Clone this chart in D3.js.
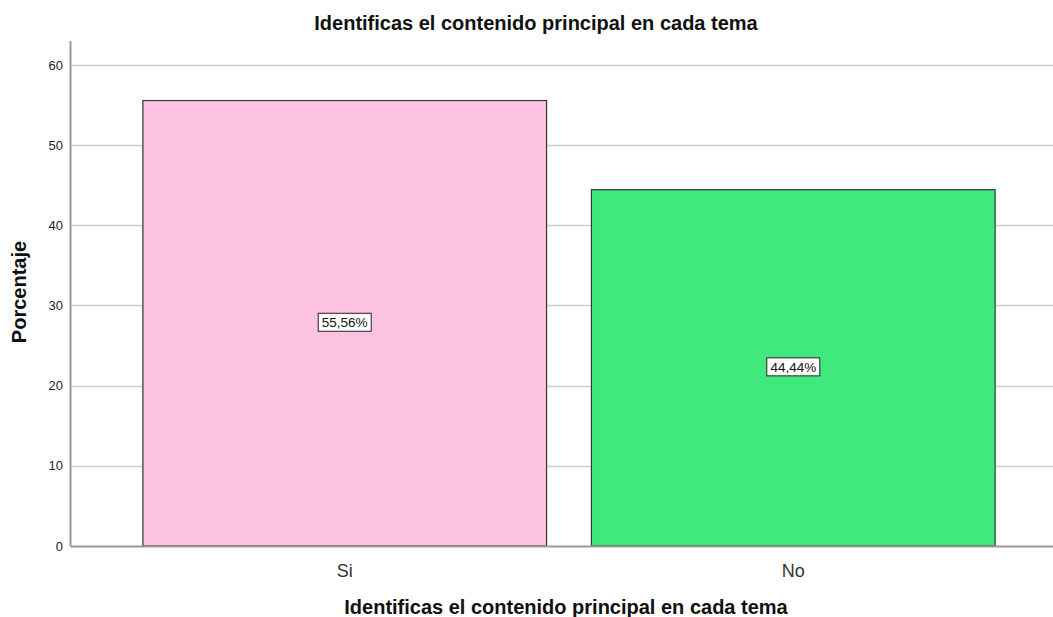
<!DOCTYPE html>
<html>
<head>
<meta charset="utf-8">
<script src="https://cdn.jsdelivr.net/npm/d3@7"></script>
<style>
  html, body { margin: 0; padding: 0; background: #fff; }
  svg { display: block; font-family: "Liberation Sans", Arial, sans-serif; }
</style>
</head>
<body>
<div id="chart"></div>
<script>
// data
const categories = ["Si", "No"];
const percentages = [55.56, 44.44];
const pctLabels = ["55,56%", "44,44%"];
const yTicks = [0, 10, 20, 30, 40, 50, 60];
const barColors = ["#fec2e2", "#41e87e"];

const width = 1053, height = 617;

const svg = d3.select("#chart")
  .append("svg")
  .attr("width", width)
  .attr("height", height);

const x = d3.scaleBand()
  .domain(categories)
  .range([98, 1040])
  .padding(0.1);

const y = d3.scaleLinear()
  .domain([0, 63])
  .range([546, 40.9]);

const axisLeft = 70.5, axisRight = 1053;

// gridlines
svg.append("g")
  .selectAll("line")
  .data(yTicks.filter(t => t > 0))
  .join("line")
  .attr("x1", axisLeft)
  .attr("x2", axisRight)
  .attr("y1", d => Math.round(y(d)) + 0.5)
  .attr("y2", d => Math.round(y(d)) + 0.5)
  .attr("stroke", "#cfcfcf")
  .attr("stroke-width", 1.5);

// y tick labels
svg.append("g")
  .selectAll("text")
  .data(yTicks)
  .join("text")
  .attr("x", 63)
  .attr("y", d => y(d))
  .attr("dy", "0.35em")
  .attr("text-anchor", "end")
  .attr("font-size", "13px")
  .attr("fill", "#222")
  .text(d => d);

// bars
svg.append("g")
  .selectAll("rect")
  .data(categories)
  .join("rect")
  .attr("x", d => x(d))
  .attr("y", (d, i) => y(percentages[i]))
  .attr("width", x.bandwidth())
  .attr("height", (d, i) => y(0) - y(percentages[i]))
  .attr("fill", (d, i) => barColors[i])
  .attr("stroke", "#333")
  .attr("stroke-width", 1.2);

// axis lines
svg.append("line")
  .attr("x1", axisLeft).attr("x2", axisLeft)
  .attr("y1", y(63)).attr("y2", y(0))
  .attr("stroke", "#999").attr("stroke-width", 2);

svg.append("line")
  .attr("x1", axisLeft).attr("x2", axisRight)
  .attr("y1", y(0) + 0.5).attr("y2", y(0) + 0.5)
  .attr("stroke", "#999").attr("stroke-width", 2);

// value labels in boxes
const lab = svg.append("g")
  .selectAll("g")
  .data(categories)
  .join("g")
  .attr("transform", (d, i) => `translate(${x(d) + x.bandwidth() / 2},${y(percentages[i] / 2) - 1})`);

lab.append("rect")
  .attr("x", -26.5)
  .attr("y", -9)
  .attr("width", 53)
  .attr("height", 18)
  .attr("fill", "#fff")
  .attr("stroke", "#222")
  .attr("stroke-width", 1);

lab.append("text")
  .attr("text-anchor", "middle")
  .attr("dy", "0.36em")
  .attr("font-size", "13.5px")
  .attr("fill", "#111")
  .text((d, i) => pctLabels[i]);

// category labels
svg.append("g")
  .selectAll("text")
  .data(categories)
  .join("text")
  .attr("x", d => x(d) + x.bandwidth() / 2)
  .attr("y", 577)
  .attr("text-anchor", "middle")
  .attr("font-size", "18px")
  .attr("fill", "#333")
  .text(d => d);

// titles
svg.append("text")
  .attr("x", 536)
  .attr("y", 30)
  .attr("text-anchor", "middle")
  .attr("font-size", "20px")
  .attr("font-weight", "bold")
  .attr("fill", "#111")
  .text("Identificas el contenido principal en cada tema");

svg.append("text")
  .attr("x", 566)
  .attr("y", 614)
  .attr("text-anchor", "middle")
  .attr("font-size", "20px")
  .attr("font-weight", "bold")
  .attr("fill", "#111")
  .text("Identificas el contenido principal en cada tema");

svg.append("text")
  .attr("transform", "translate(26,292) rotate(-90)")
  .attr("text-anchor", "middle")
  .attr("font-size", "20px")
  .attr("font-weight", "bold")
  .attr("fill", "#111")
  .text("Porcentaje");
</script>
</body>
</html>
